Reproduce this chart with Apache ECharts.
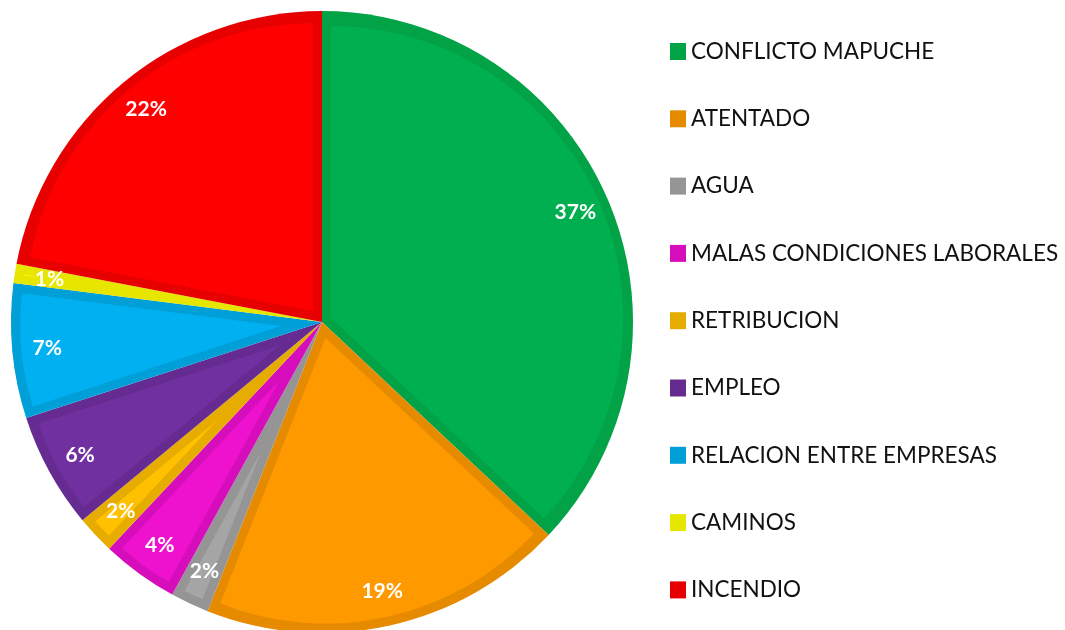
<!DOCTYPE html>
<html>
<head>
<meta charset="utf-8">
<script src="https://cdn.jsdelivr.net/npm/echarts@6/dist/echarts.min.js"></script>
<style>
  html, body { margin: 0; padding: 0; background: #fff; }
  #main { width: 1065px; height: 630px; }
</style>
</head>
<body>
<div id="main"></div>
<script>
var categories = ["CONFLICTO MAPUCHE", "ATENTADO", "AGUA", "MALAS CONDICIONES LABORALES",
  "RETRIBUCION", "EMPLEO", "RELACION ENTRE EMPRESAS", "CAMINOS", "INCENDIO"];
var values = [37, 19, 2, 4, 2, 6, 7, 1, 22];
var fillColors = ["#00B050", "#FF9900", "#A5A5A5", "#EE12CF", "#FFC000", "#7030A0", "#00B0F0", "#FFFF00", "#FF0000"];
var edgeColors = ["#02A246", "#E68A00", "#959595", "#D60DBA", "#E6AD00", "#652B90", "#009FD8", "#E6E600", "#E60000"];

var cx = 322, cy = 322, outerR = 311, rim = 9;

var chart = echarts.init(document.getElementById("main"));

function items(colorOf) {
  return categories.map(function (name, i) {
    return { name: name, value: values[i], itemStyle: { color: colorOf(i) } };
  });
}

var base = {
  type: "pie",
  startAngle: 90,
  silent: true,
  label: { show: false },
  labelLine: { show: false },
  emphasis: { disabled: true }
};

var series = [];
// darker rim: the full pie in edge colours
series.push(Object.assign({}, base, {
  center: [cx, cy],
  radius: [0, outerR],
  itemStyle: { borderWidth: 0 },
  data: items(function (i) { return edgeColors[i]; })
}));

// lighter inner face of each slice, pulled in along its bisector
var total = values.reduce(function (a, b) { return a + b; }, 0);
var cum = 0;
values.forEach(function (v, k) {
  var half = Math.PI * v / total;
  var mid = 2 * Math.PI * (cum + v / 2) / total;
  cum += v;
  var d = rim / Math.sin(half);
  var r = outerR - rim - d;
  if (r <= 0) return;
  series.push(Object.assign({}, base, {
    center: [cx + d * Math.sin(mid), cy - d * Math.cos(mid)],
    radius: [0, r],
    itemStyle: { borderWidth: 0 },
    data: items(function (i) { return i === k ? fillColors[i] : "rgba(0,0,0,0)"; })
  }));
});

// percentage labels
series.push(Object.assign({}, base, {
  center: [cx, cy],
  radius: [236, 310],
  itemStyle: { color: "rgba(0,0,0,0)", borderWidth: 0 },
  label: {
    show: true,
    position: "inside",
    formatter: "{c}%",
    color: "#fff",
    fontFamily: "Lato",
    fontWeight: "bold",
    fontSize: 21
  },
  data: items(function () { return "rgba(0,0,0,0)"; })
}));

chart.setOption({
  animation: false,
  legend: {
    orient: "vertical",
    left: 670,
    top: 40,
    padding: 0,
    icon: "rect",
    itemWidth: 16,
    itemHeight: 17,
    itemGap: 44.3,
    textStyle: { fontFamily: "Lato", fontSize: 22.5, color: "#111", lineHeight: 20 },
    data: categories.map(function (name, i) {
      return { name: name, itemStyle: { color: edgeColors[i] } };
    })
  },
  series: series
});
</script>
</body>
</html>
